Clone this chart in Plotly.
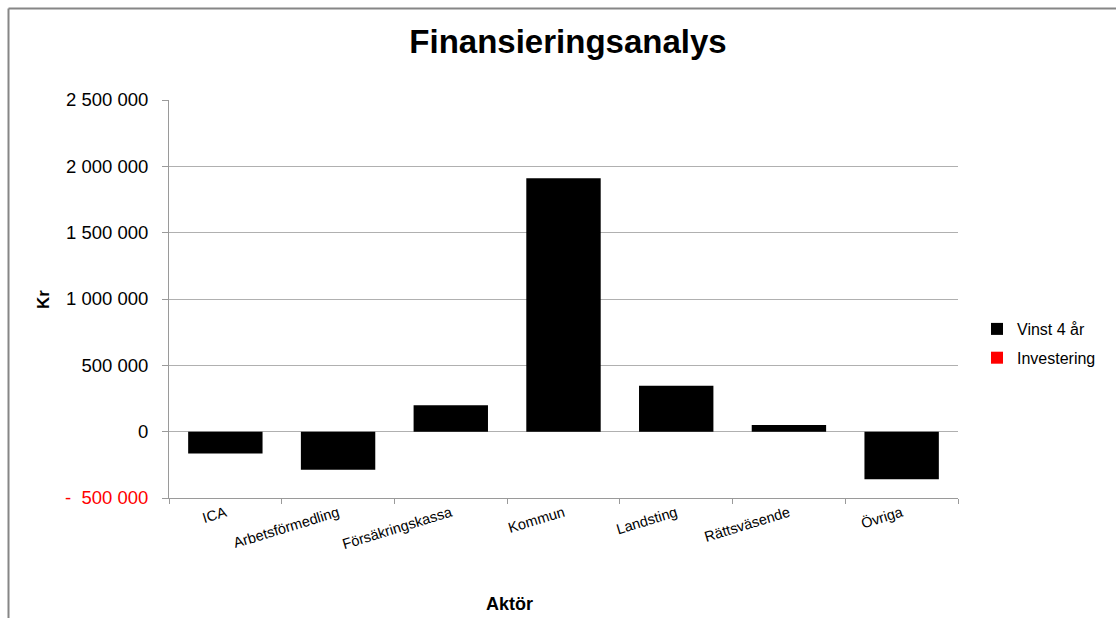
import plotly.graph_objects as go

# ---- data ----
categories = ["ICA", "Arbetsförmedling", "Försäkringskassa", "Kommun",
              "Landsting", "Rättsväsende", "Övriga"]
vinst_4_ar = [-165000, -288000, 200000, 1910000, 346000, 51000, -358000]
investering = [0, 0, 0, 0, 0, 0, 0]

y_tickvals = [-500000, 0, 500000, 1000000, 1500000, 2000000, 2500000]
y_ticktext = ["<span style='color:#ff0000'>-\u00a0\u00a0500 000</span>", "0",
              "500 000", "1 000 000", "1 500 000", "2 000 000", "2 500 000"]

FONT = "Liberation Sans, Arial, sans-serif"
W, H = 1116, 618
L, R, T, B = 169, 958, 100, 498

fig = go.Figure()
fig.add_trace(go.Bar(x=categories, y=vinst_4_ar, name="Vinst 4 år", legendgroup="a",
                     marker=dict(color="#000000", line=dict(width=0))))
fig.add_trace(go.Bar(x=categories, y=investering, name="Investering", legendgroup="b",
                     marker=dict(color="#ff0000", line=dict(width=0))))

def px_x(x):
    return (x - L) / (R - L)

def px_y(y):
    return (B - y) / (B - T)

fig.update_layout(
    width=W, height=H,
    margin=dict(l=L, r=W - R, t=T, b=H - B, autoexpand=False),
    paper_bgcolor="white", plot_bgcolor="white",
    barmode="relative", bargap=0.34,
    font=dict(family=FONT, color="#000000"),
    title=dict(text="<b>Finansieringsanalys</b>", font=dict(size=33, family=FONT, color="#000"),
               x=px_x(568), xref="paper", xanchor="center",
               y=1 - 41 / H, yref="container", yanchor="middle"),
    xaxis=dict(showgrid=False, showline=True, linecolor="#9a9a9a", linewidth=1,
               ticks="outside", ticklen=5, tickcolor="#9a9a9a", tickson="boundaries",
               tickangle=-17, tickfont=dict(size=14.5, family=FONT, color="#000")),
    yaxis=dict(range=[-500000, 2500000], tickvals=y_tickvals, ticktext=y_ticktext,
               showgrid=True, gridcolor="#b0b0b0", gridwidth=1,
               zeroline=True, zerolinecolor="#b0b0b0", zerolinewidth=1,
               showline=True, linecolor="#9a9a9a", linewidth=1,
               ticks="outside", ticklen=6, tickcolor="#9a9a9a",
               ticklabelstandoff=10,
               tickfont=dict(size=18.5, family=FONT, color="#000")),
    legend=dict(x=px_x(977), xanchor="left", y=px_y(312), yanchor="top",
                font=dict(size=16, family=FONT, color="#000"),
                bgcolor="rgba(0,0,0,0)", itemwidth=30, tracegroupgap=5,
                traceorder="grouped"),
    showlegend=True,
)

# axis titles as annotations
fig.add_annotation(text="<b>Kr</b>", x=px_x(43), y=px_y(300), xref="paper", yref="paper",
                   textangle=-90, showarrow=False, font=dict(size=17, family=FONT, color="#000"),
                   xanchor="center", yanchor="middle")
fig.add_annotation(text="<b>Aktör</b>", x=px_x(509), y=px_y(604), xref="paper", yref="paper",
                   showarrow=False, font=dict(size=18, family=FONT, color="#000"),
                   xanchor="center", yanchor="middle")

# outer chart border (top and left visible)
fig.add_shape(type="line", xref="paper", yref="paper",
              x0=px_x(8.5), x1=px_x(8.5), y0=px_y(H + 5), y1=px_y(8.5),
              line=dict(color="#868686", width=2))
fig.add_shape(type="line", xref="paper", yref="paper",
              x0=px_x(8.5), x1=px_x(W + 5), y0=px_y(8.5), y1=px_y(8.5),
              line=dict(color="#868686", width=2))

fig.write_html("out.html", config={"displayModeBar": False},
               post_script="document.body.style.margin='0';document.body.style.overflow='hidden';")
